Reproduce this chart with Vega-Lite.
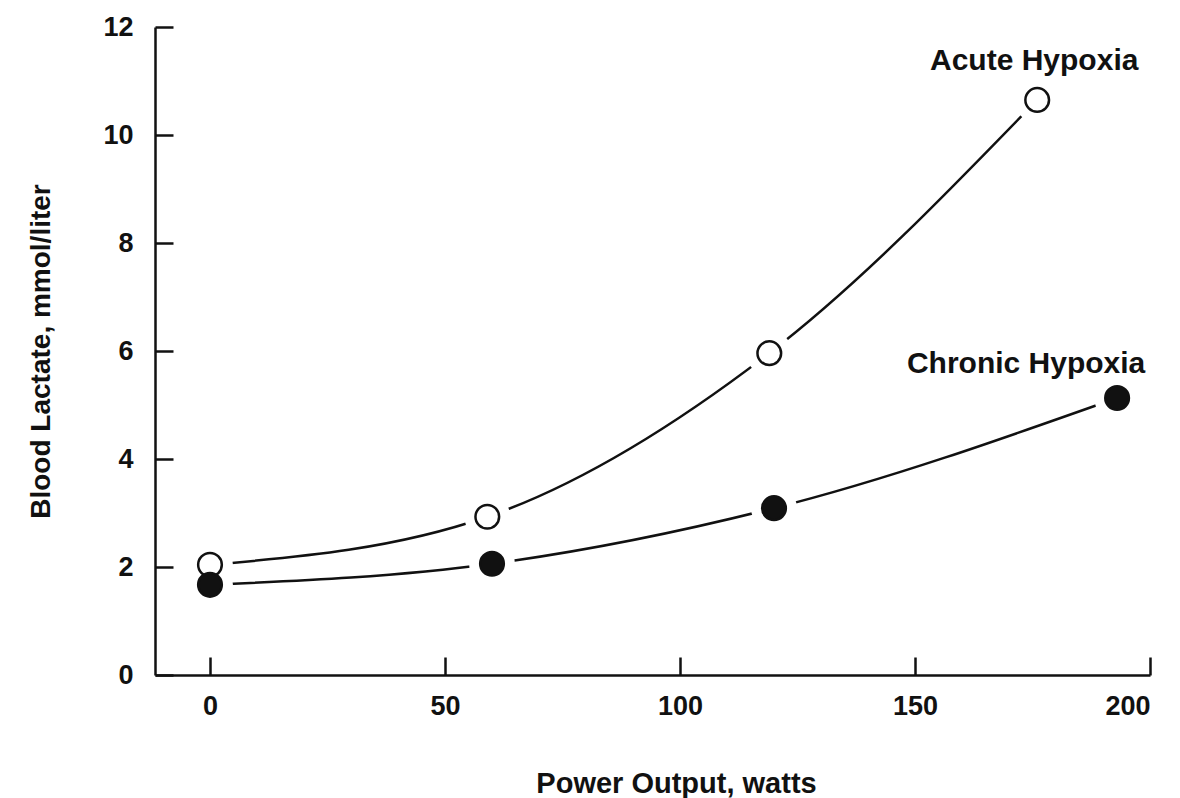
{
  "$schema": "https://vega.github.io/schema/vega-lite/v6.json",
  "width": 995,
  "height": 648,
  "autosize": {"type": "none"},
  "padding": {"left": 155, "top": 27, "right": 30, "bottom": 123},
  "background": "white",
  "config": {
    "view": {"stroke": null},
    "font": "Liberation Sans",
    "axis": {
      "grid": false,
      "domainColor": "#111",
      "domainWidth": 2.5,
      "tickColor": "#111",
      "tickWidth": 2.5,
      "tickSize": -18,
      "labelFont": "Liberation Sans",
      "labelFontSize": 27,
      "labelFontWeight": "bold",
      "labelColor": "#111",
      "titleFont": "Liberation Sans",
      "titleFontWeight": "bold",
      "titleColor": "#111"
    }
  },
  "data": {
    "values": [
      {"series": "Acute Hypoxia", "watts": 0, "lactate": 2.04},
      {"series": "Acute Hypoxia", "watts": 59, "lactate": 2.93},
      {"series": "Acute Hypoxia", "watts": 119, "lactate": 5.96},
      {"series": "Acute Hypoxia", "watts": 176, "lactate": 10.65},
      {"series": "Chronic Hypoxia", "watts": 0, "lactate": 1.67},
      {"series": "Chronic Hypoxia", "watts": 60, "lactate": 2.06},
      {"series": "Chronic Hypoxia", "watts": 120, "lactate": 3.09},
      {"series": "Chronic Hypoxia", "watts": 193, "lactate": 5.13}
    ]
  },
  "encoding": {
    "x": {
      "field": "watts",
      "type": "quantitative",
      "scale": {"domain": [-11.7, 200], "nice": false, "zero": false},
      "axis": {
        "values": [0, 50, 100, 150, 200],
        "title": "Power Output, watts",
        "titleFontSize": 29,
        "labelPadding": 36,
        "titleX": 521,
        "titleY": 117,
        "titleBaseline": "alphabetic"
      }
    },
    "y": {
      "field": "lactate",
      "type": "quantitative",
      "scale": {"domain": [0, 12], "nice": false},
      "axis": {
        "values": [0, 2, 4, 6, 8, 10, 12],
        "title": "Blood Lactate, mmol/liter",
        "titleFontSize": 28,
        "labelPadding": 40,
        "titleX": -100,
        "titleY": 324
      }
    }
  },
  "layer": [
    {
      "mark": {"type": "line", "interpolate": "monotone", "stroke": "#111", "strokeWidth": 2.5},
      "encoding": {"detail": {"field": "series"}}
    },
    {
      "mark": {"type": "point", "shape": "circle", "filled": true, "fill": "white", "size": 2100, "opacity": 1, "strokeWidth": 0}
    },
    {
      "mark": {"type": "point", "shape": "circle", "filled": true, "size": 560, "stroke": "#111", "strokeWidth": 2.5, "opacity": 1},
      "encoding": {
        "fill": {
          "field": "series",
          "type": "nominal",
          "scale": {"domain": ["Acute Hypoxia", "Chronic Hypoxia"], "range": ["white", "#111"]},
          "legend": null
        }
      }
    },
    {
      "transform": [{"filter": "datum.series == 'Acute Hypoxia' && datum.watts > 170"}],
      "mark": {"type": "text", "align": "center", "baseline": "alphabetic", "dx": -3, "dy": -30, "font": "Liberation Sans", "fontSize": 30, "fontWeight": "bold", "fill": "#111"},
      "encoding": {"text": {"field": "series"}}
    },
    {
      "transform": [{"filter": "datum.series == 'Chronic Hypoxia' && datum.watts > 170"}],
      "mark": {"type": "text", "align": "center", "baseline": "alphabetic", "dx": -91, "dy": -25, "font": "Liberation Sans", "fontSize": 30, "fontWeight": "bold", "fill": "#111"},
      "encoding": {"text": {"field": "series"}}
    }
  ]
}
